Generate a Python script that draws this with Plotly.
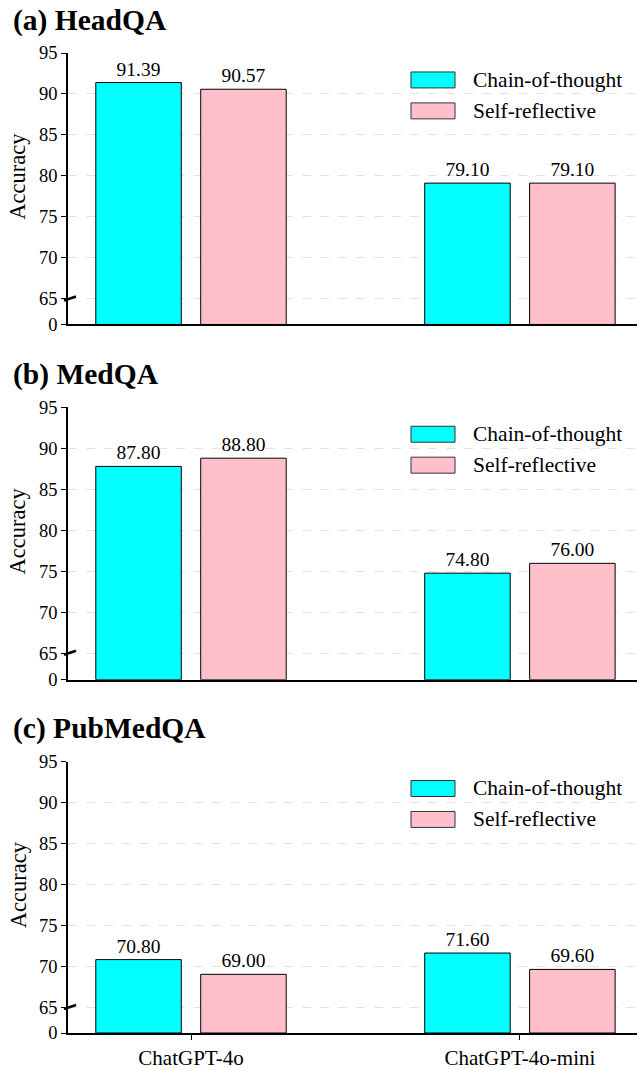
import plotly.graph_objects as go

models = ["ChatGPT-4o", "ChatGPT-4o-mini"]
panels = ["(a) HeadQA", "(b) MedQA", "(c) PubMedQA"]
series_names = ["Chain-of-thought", "Self-reflective"]
cot_values = [[91.39, 79.10], [87.80, 74.80], [70.80, 71.60]]
sr_values = [[90.57, 79.10], [88.80, 76.00], [69.00, 69.60]]
tick_labels = ["0", "65", "70", "75", "80", "85", "90", "95"]
tick_positions = [61.83, 65, 70, 75, 80, 85, 90, 95]
colors = ["#00FFFF", "#FFC0CB"]

AXIS_FLOOR = 61.83
FONT = "Liberation Serif"

W, H = 637, 1070
ML, MR, MT, MB = 68, 0, 53, 35
PW = W - ML - MR
PH = H - MT - MB


def py(p):
    return (H - MB - p) / PH


def px(p):
    return (p - ML) / PW


panel_px = [(53, 325), (408, 681), (763, 1035)]

fig = go.Figure()
layout = dict(
    width=W, height=H,
    margin=dict(l=ML, r=MR, t=MT, b=MB),
    paper_bgcolor="white", plot_bgcolor="white",
    barmode="group", bargap=0.362, bargroupgap=0.185,
    showlegend=False,
    font=dict(family=FONT, size=18, color="black"),
)
annotations = []
shapes = []

for i in range(3):
    xa = "x" if i == 0 else f"x{i+1}"
    ya = "y" if i == 0 else f"y{i+1}"
    for s, vals in enumerate([cot_values[i], sr_values[i]]):
        fig.add_trace(go.Bar(
            x=models, y=[v - AXIS_FLOOR for v in vals], base=AXIS_FLOOR,
            name=series_names[s],
            marker=dict(color=colors[s], line=dict(color="black", width=1)),
            text=[f"{v:.2f}" for v in vals], textposition="outside",
            textfont=dict(family=FONT, size=19.5, color="black"),
            cliponaxis=False, xaxis=xa, yaxis=ya, offsetgroup=str(s),
            hoverinfo="skip",
        ))
    top, bot = panel_px[i]
    xkey = "xaxis" if i == 0 else f"xaxis{i+1}"
    ykey = "yaxis" if i == 0 else f"yaxis{i+1}"
    layout[xkey] = dict(
        domain=[0, 1], anchor=ya, type="category",
        range=[-0.374, 1.356],
        showline=True, linecolor="black", linewidth=1.5,
        ticks="outside" if i == 2 else "", ticklen=5, tickcolor="black",
        showticklabels=(i == 2), showgrid=False,
        tickfont=dict(family=FONT, size=21),
    )
    if i > 0:
        layout[xkey]["matches"] = "x"
    layout[ykey] = dict(
        domain=[py(bot), py(top)], anchor=xa,
        range=[AXIS_FLOOR, 95],
        tickvals=tick_positions, ticktext=tick_labels,
        showline=True, linecolor="black", linewidth=1.5,
        ticks="outside", ticklen=5, tickcolor="black",
        showgrid=True, gridcolor="#e3e3e3", griddash="dash", gridwidth=1,
        zeroline=False, tickfont=dict(family=FONT, size=18.5),
    )
    annotations.append(dict(
        text=f"<b>{panels[i]}</b>", xref="paper", yref="paper",
        x=px(11), y=py(top - 33), xanchor="left", yanchor="middle",
        showarrow=False, font=dict(family=FONT, size=29.5, color="black"),
    ))
    annotations.append(dict(
        text="Accuracy", xref="paper", yref="paper",
        x=px(18), y=py((top + bot) / 2 - 12), xanchor="center", yanchor="middle",
        textangle=-90, showarrow=False,
        font=dict(family=FONT, size=22.5, color="black"),
    ))
    shapes.append(dict(
        type="line", xref="paper", yref="paper",
        x0=px(64), x1=px(76), y0=py(top + 248), y1=py(top + 244),
        line=dict(color="black", width=2.5),
    ))
    for s in range(2):
        cy = top + 27 + s * 31
        shapes.append(dict(
            type="rect", xref="paper", yref="paper",
            x0=px(411), x1=px(455), y0=py(cy + 8), y1=py(cy - 8),
            fillcolor=colors[s], line=dict(color="#333333", width=1),
        ))
        annotations.append(dict(
            text=series_names[s], xref="paper", yref="paper",
            x=px(471), y=py(cy), xanchor="left", yanchor="middle",
            showarrow=False, font=dict(family=FONT, size=21.5, color="black"),
        ))

layout["annotations"] = annotations
layout["shapes"] = shapes
fig.update_layout(**layout)
fig.write_html("out.html", config={"displayModeBar": False},
               post_script="document.body.style.margin='0';")
